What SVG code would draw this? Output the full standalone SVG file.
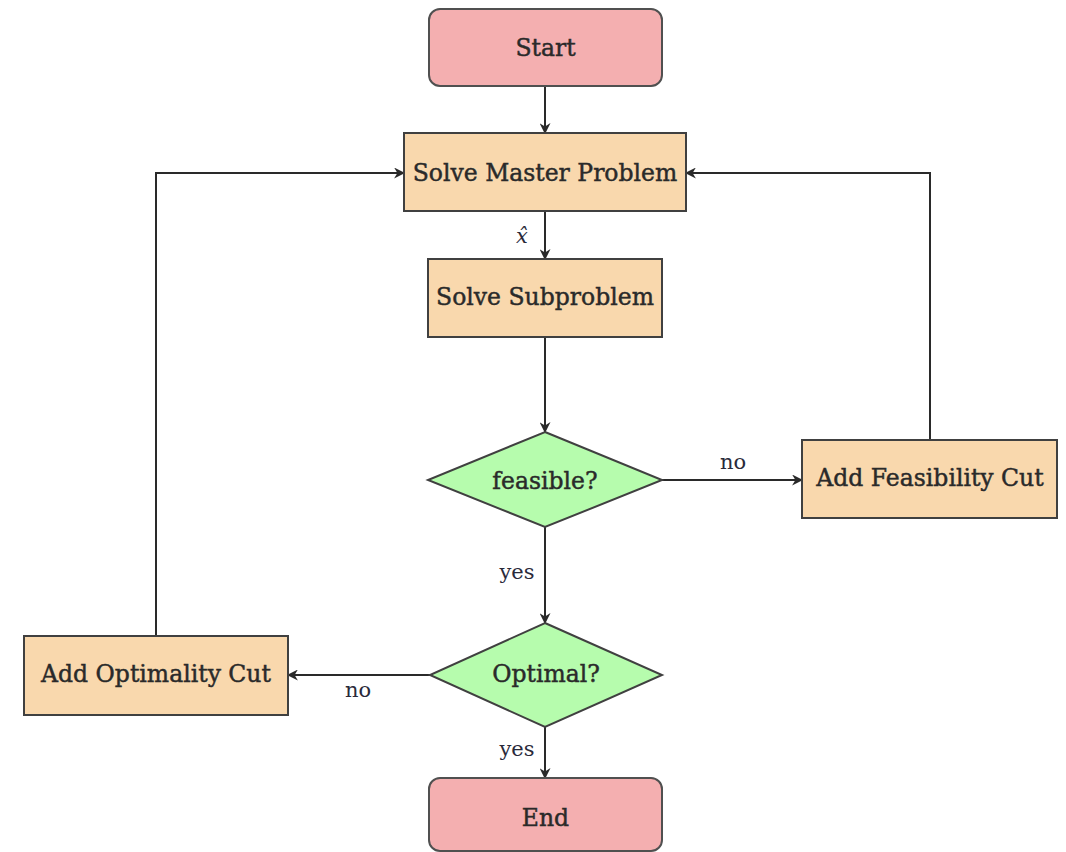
<svg xmlns="http://www.w3.org/2000/svg" width="1066" height="852" viewBox="0 0 1066 852">
  <style>
    .term { fill: #f4afb0; stroke: #505050; stroke-width: 2; }
    .proc { fill: #f9d8ad; stroke: #404040; stroke-width: 2; }
    .dec  { fill: #b6fcad; stroke: #404040; stroke-width: 2; }
    .lbl  { font-family: "DejaVu Serif", "Liberation Serif", serif; font-size: 23.5px; fill: #2a2a2a; stroke: #2a2a2a; stroke-width: 0.45; text-anchor: middle; dominant-baseline: central; }
    .edge { fill: none; stroke: #2a2a2a; stroke-width: 2; }
    .elbl { font-family: "DejaVu Serif", "Liberation Serif", serif; font-size: 21px; fill: #2a2a3a; text-anchor: middle; dominant-baseline: central; }
  </style>
  <defs>
    <marker id="arrow" viewBox="0 0 10 10" refX="9" refY="5" markerWidth="11" markerHeight="11" orient="auto" markerUnits="userSpaceOnUse">
      <path d="M0,0 L10,5 L0,10 L3,5 Z" fill="#2a2a2a"/>
    </marker>
  </defs>
  <rect width="1066" height="852" fill="#ffffff"/>

  <g id="connectors">
    <path class="edge" d="M545,86 V133" marker-end="url(#arrow)"/>
    <path class="edge" d="M545,211 V259" marker-end="url(#arrow)"/>
    <path class="edge" d="M545,337 V432" marker-end="url(#arrow)"/>
    <path class="edge" d="M662,480 H802" marker-end="url(#arrow)"/>
    <path class="edge" d="M930,440 V173 H686" marker-end="url(#arrow)"/>
    <path class="edge" d="M545,527 V623" marker-end="url(#arrow)"/>
    <path class="edge" d="M430,675 H288" marker-end="url(#arrow)"/>
    <path class="edge" d="M156,636 V173 H404" marker-end="url(#arrow)"/>
    <path class="edge" d="M545,727 V778" marker-end="url(#arrow)"/>
    <text class="elbl" x="522" y="236" font-style="italic" fill="#2a3a6a">x̂</text>
    <text class="elbl" x="733" y="462">no</text>
    <text class="elbl" x="517" y="572">yes</text>
    <text class="elbl" x="358" y="690">no</text>
    <text class="elbl" x="517" y="749">yes</text>
  </g>

  <g id="start">
    <rect class="term" x="429" y="9" width="233" height="77" rx="11"/>
    <text class="lbl" x="545.5" y="48">Start</text>
  </g>
  <g id="master">
    <rect class="proc" x="404" y="133" width="282" height="78"/>
    <text class="lbl" x="545" y="173">Solve Master Problem</text>
  </g>
  <g id="subproblem">
    <rect class="proc" x="428" y="259" width="234" height="78"/>
    <text class="lbl" x="545" y="297">Solve Subproblem</text>
  </g>
  <g id="feasible">
    <polygon class="dec" points="545,432 662,480 545,527 428,480"/>
    <text class="lbl" x="545" y="481">feasible?</text>
  </g>
  <g id="feascut">
    <rect class="proc" x="802" y="440" width="255" height="78"/>
    <text class="lbl" x="930" y="478">Add Feasibility Cut</text>
  </g>
  <g id="optimal">
    <polygon class="dec" points="545,623 662,675 545,727 430,675"/>
    <text class="lbl" x="546" y="674">Optimal?</text>
  </g>
  <g id="optcut">
    <rect class="proc" x="24" y="636" width="264" height="79"/>
    <text class="lbl" x="156" y="674">Add Optimality Cut</text>
  </g>
  <g id="end">
    <rect class="term" x="429" y="778" width="233" height="73" rx="11"/>
    <text class="lbl" x="545.5" y="818">End</text>
  </g>
</svg>
